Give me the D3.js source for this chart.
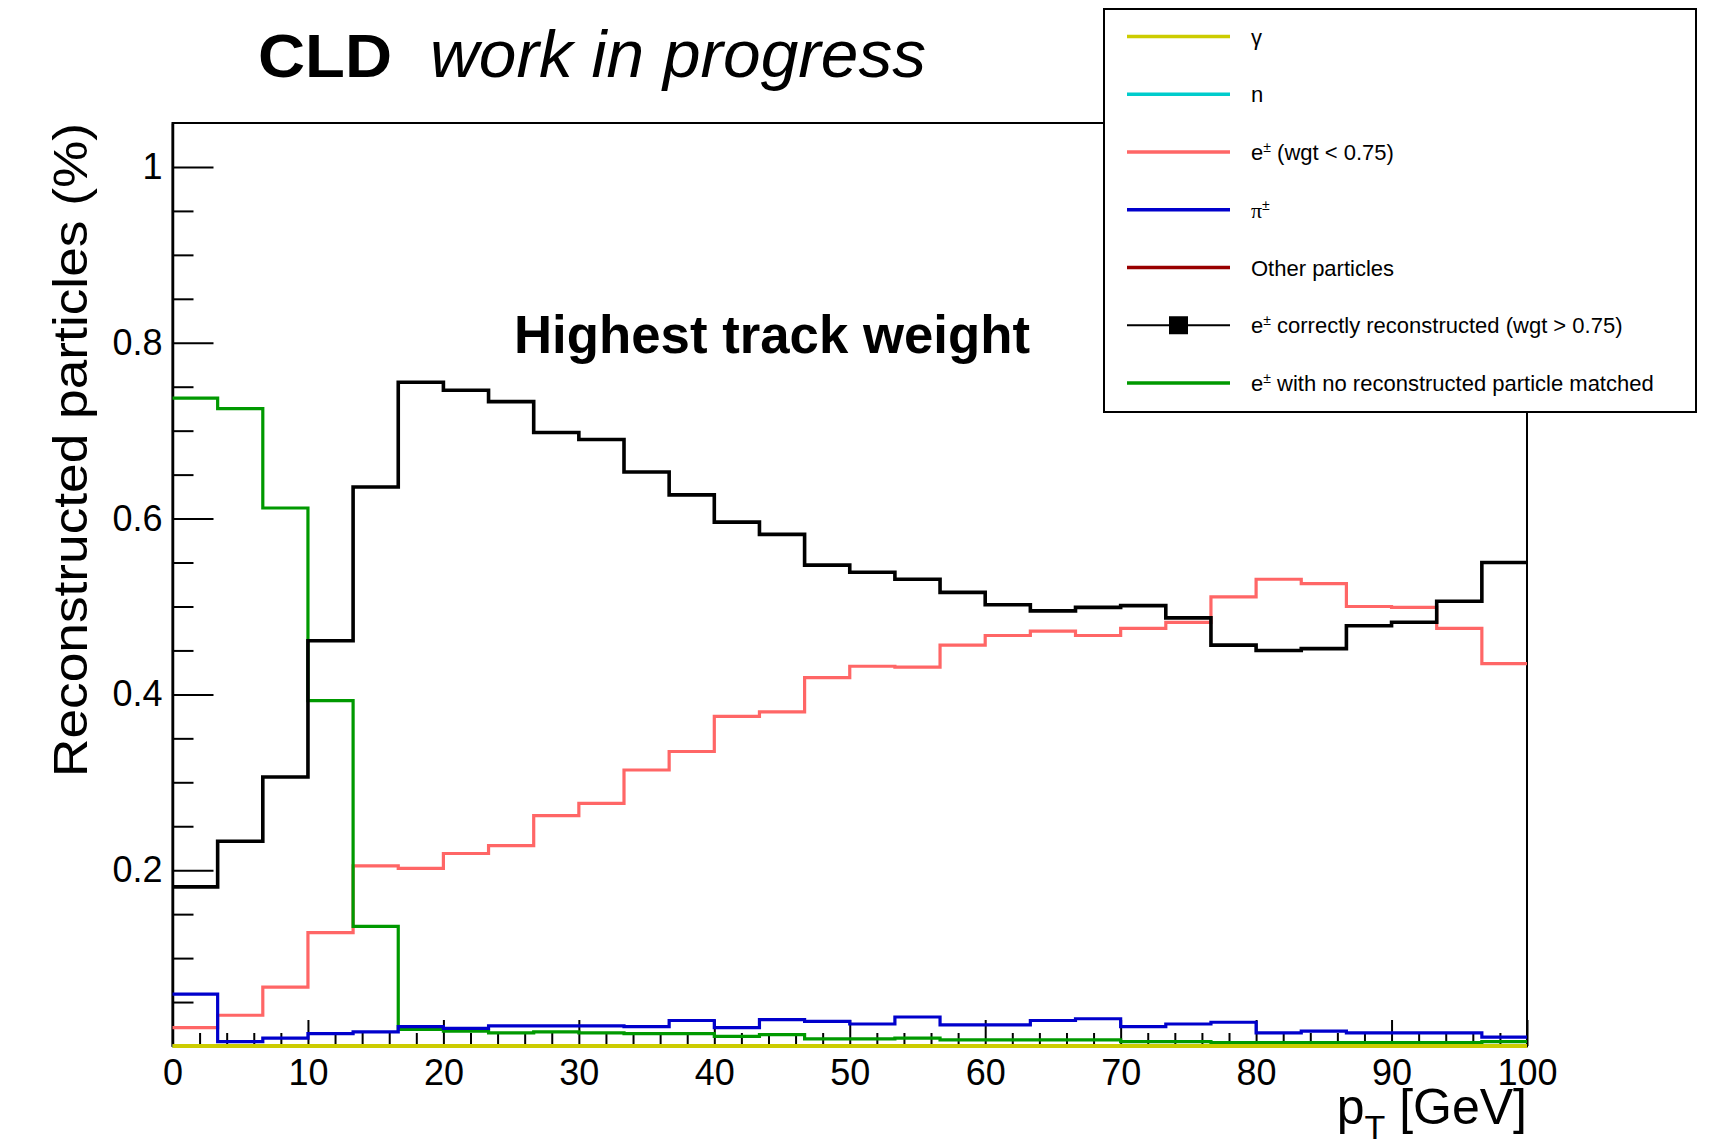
<!DOCTYPE html>
<html>
<head>
<meta charset="utf-8">
<script src="https://cdn.jsdelivr.net/npm/d3@7"></script>
<style>
body{margin:0;background:#fff;}
text{font-family:"Liberation Sans",Arial,Helvetica,sans-serif;}
</style>
</head>
<body>
<svg id="chart"></svg>
<script>
// CLD reco fractions vs pT

// data
var nBins=30, ptMin=0, ptMax=100;
var xTicks=[0,10,20,30,40,50,60,70,80,90,100];
var yTicks=[0.2,0.4,0.6,0.8,1];
var yTickLabels=["0.2","0.4","0.6","0.8","1"];

var gammaFrac=[0,0,0,0,0,0,0,0,0,0,0,0,0,0,0,0,0,0,0,0,0,0,0,0,0,0,0,0,0,0];
var neutronFrac=[0,0,0,0,0,0,0,0,0,0,0,0,0,0,0,0,0,0,0,0,0,0,0,0,0,0,0,0,0,0];
var otherFrac=[0,0,0,0,0,0,0,0,0,0,0,0,0,0,0,0,0,0,0,0,0,0,0,0,0,0,0,0,0,0];
var eLowFrac=[0.021,0.035,0.067,0.129,0.205,0.202,0.219,0.228,0.262,0.276,0.314,0.335,0.375,0.380,0.419,0.432,0.431,0.456,0.467,0.472,0.467,0.475,0.482,0.511,0.531,0.526,0.500,0.499,0.475,0.435];
var pionFrac=[0.059,0.005,0.009,0.014,0.016,0.022,0.020,0.023,0.023,0.023,0.022,0.029,0.021,0.030,0.028,0.025,0.033,0.024,0.024,0.029,0.031,0.022,0.025,0.027,0.015,0.017,0.015,0.015,0.015,0.010];
var eGoodFrac=[0.181,0.233,0.306,0.461,0.636,0.755,0.746,0.733,0.698,0.690,0.653,0.627,0.596,0.582,0.547,0.539,0.531,0.516,0.502,0.495,0.499,0.501,0.487,0.456,0.450,0.452,0.478,0.482,0.506,0.550];
var eLostFrac=[0.737,0.725,0.612,0.393,0.136,0.019,0.017,0.015,0.016,0.015,0.014,0.014,0.011,0.013,0.008,0.008,0.009,0.007,0.007,0.007,0.007,0.005,0.005,0.004,0.004,0.004,0.004,0.004,0.004,0.005];

var legendLabels=["\u03b3","n","e\u00b1 (wgt < 0.75)","\u03c0\u00b1","Other particles","e\u00b1 correctly reconstructed (wgt > 0.75)","e\u00b1 with no reconstructed particle matched"];

// layout
w=1710;h=1145;
L=172.5;R=1527;T=123;B=1046;
var svg=d3.select("#chart").attr("width",w).attr("height",h);
svg.append("rect").attr("width",w).attr("height",h).style("fill","#fff");

var x=d3.scaleLinear().domain([ptMin,ptMax]).range([L,R]);
var y=d3.scaleLinear().domain([0,1.05]).range([B,T]);
var edges=d3.range(nBins+1).map(function(i) {return ptMin+i*(ptMax-ptMin)/nBins;});

// series, in drawing order (last on top)
var series=[
	{vals:eLowFrac,col:"#ff6666",lw:3.2},
	{vals:otherFrac,col:"#990000",lw:3.2},
	{vals:neutronFrac,col:"#00cccc",lw:3.2},
	{vals:eLostFrac,col:"#009900",lw:3.2},
	{vals:eGoodFrac,col:"#000",lw:3.6},
	{vals:pionFrac,col:"#0000cc",lw:3.2},
	{vals:gammaFrac,col:"#cccc00",lw:4}
];

function stepPoints(vals) {
	var pts=[];
	vals.forEach(function(v,i) {pts.push([edges[i],v]);pts.push([edges[i+1],v]);});
	return pts;
}
var line=d3.line().x(function(d) {return x(d[0]);}).y(function(d) {return y(d[1]);});

// frame
svg.append("rect").attr("x",L).attr("y",T).attr("width",R-L).attr("height",B-T)
	.style("fill","none").style("stroke","#000").style("stroke-width",2);

// axes
var xMinor=d3.range(0,101,2).filter(function(d) {return d%10!=0;});
var yMinor=d3.range(1,21).filter(function(i) {return i%4!=0;}).map(function(i) {return i*0.05;});

var gxm=svg.append("g").attr("transform","translate(0,"+B+")")
	.call(d3.axisBottom(x).tickValues(xMinor).tickSize(-13).tickFormat(""));
var gx=svg.append("g").attr("transform","translate(0,"+B+")")
	.call(d3.axisBottom(x).tickValues(xTicks).tickSize(-26).tickSizeOuter(0).tickPadding(13).tickFormat(d3.format("d")));
var gym=svg.append("g").attr("transform","translate("+L+",0)")
	.call(d3.axisLeft(y).tickValues(yMinor).tickSize(-21).tickFormat(""));
var gy=svg.append("g").attr("transform","translate("+L+",0)")
	.call(d3.axisLeft(y).tickValues(yTicks).tickSize(-41).tickSizeOuter(0).tickPadding(10)
		.tickFormat(function(d,i) {return yTickLabels[i];}));

[gxm,gx,gym,gy].forEach(function(g) {
	g.selectAll(".domain").style("stroke","#000").style("stroke-width",2.5);
	g.selectAll(".tick line").style("stroke","#000").style("stroke-width",2);
	g.selectAll("text").attr("font-size",36).attr("font-family","Liberation Sans, Arial, sans-serif").style("fill","#000");
});
gxm.select(".domain").remove();gym.select(".domain").remove();

// histograms
svg.selectAll(".hist").data(series).enter().append("path")
	.attr("class","hist")
	.attr("d",function(d) {return line(stepPoints(d.vals));})
	.style("fill","none")
	.style("stroke",function(d) {return d.col;})
	.style("stroke-width",function(d) {return d.lw;})
	.style("stroke-linejoin","miter");

// axis titles
var xt=svg.append("text").attr("x",R).attr("y",1124).attr("text-anchor","end").attr("font-size",50);
xt.append("tspan").text("p");
xt.append("tspan").attr("font-size",34).attr("dy",15).text("T");
xt.append("tspan").attr("dy",-15).text(" [GeV]");

svg.append("text").attr("transform","translate(87,777) rotate(-90)")
	.attr("font-size",48).attr("textLength",654).attr("lengthAdjust","spacingAndGlyphs")
	.text("Reconstructed particles (%)");

// titles
svg.append("text").attr("x",258).attr("y",77).attr("font-size",62).attr("font-weight","bold")
	.attr("textLength",134).attr("lengthAdjust","spacingAndGlyphs").text("CLD");
svg.append("text").attr("x",430).attr("y",77).attr("font-size",66).attr("font-style","italic")
	.attr("textLength",496).attr("lengthAdjust","spacingAndGlyphs").text("work in progress");
svg.append("text").attr("x",514).attr("y",353).attr("font-size",53).attr("font-weight","bold")
	.attr("textLength",516).attr("lengthAdjust","spacingAndGlyphs").text("Highest track weight");

// legend
var legCols=["#cccc00","#00cccc","#ff6666","#0000cc","#990000","#000","#009900"];
var legY=d3.scalePoint().domain(d3.range(legendLabels.length)).range([36.5,383]);
var gLeg=svg.append("g");
gLeg.append("rect").attr("x",1104).attr("y",9).attr("width",592).attr("height",403)
	.style("fill","#fff").style("stroke","#000").style("stroke-width",2);

var rows=gLeg.selectAll(".leg").data(legendLabels).enter().append("g")
	.attr("transform",function(d,i) {return "translate(0,"+legY(i)+")";});
rows.append("line").attr("x1",1127).attr("x2",1230)
	.style("stroke",function(d,i) {return legCols[i];})
	.style("stroke-width",function(d,i) {return i==5?2:3.5;});
rows.filter(function(d,i) {return i==5;}).append("rect")
	.attr("x",1169).attr("y",-9).attr("width",19).attr("height",18).style("fill","#000");
rows.append("text").attr("x",1251).attr("y",8).attr("font-size",22)
	.each(function(d) {
		var t=d3.select(this), parts=d.split("\u00b1");
		parts.forEach(function(p,k) {
			var s=t.append("tspan").text(p);
			if (k>0) s.attr("dy",8);
			if (p=="\u03c0") s.attr("font-family","Liberation Serif, serif");
			if (k<parts.length-1) t.append("tspan").attr("font-size",14).attr("dy",-8).text("\u00b1");
		});
	});
</script>
</body>
</html>
